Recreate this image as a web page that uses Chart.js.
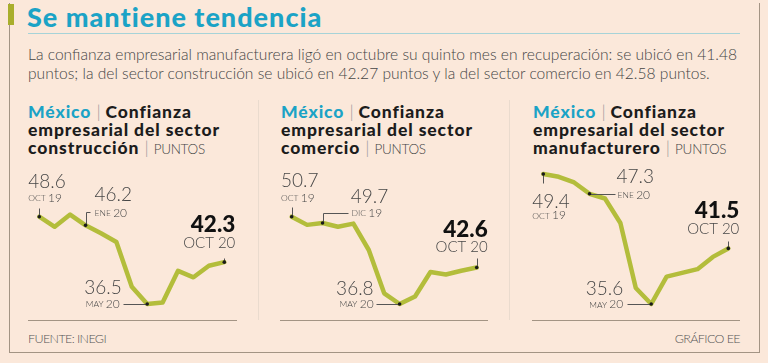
<!DOCTYPE html>
<html>
<head>
<meta charset="utf-8">
<script src="https://cdn.jsdelivr.net/npm/chart.js"></script>
<style>
  html, body { margin: 0; padding: 0; }
  body {
    width: 768px; height: 363px; position: relative; overflow: hidden;
    background: #fbe8da; font-family: 'Lato', sans-serif; color: #3c3c3c;
  }
  .abs { position: absolute; white-space: nowrap; }
  canvas { position: absolute; left: 0; top: 0; }
  .box { left: 9px; top: 3px; width: 749px; height: 349px; border-left: 1px solid #a39484; border-right: 1px solid #a39484; border-bottom: 1px solid #a39484; }
  .bar { left: 8px; top: 4px; width: 6px; height: 21px; background: #a9ae2c; }
  .title { left: 27px; top: 0px; font-size: 27px; font-weight: 900; color: #1ba3c6; letter-spacing: 1px; }
  .rule { left: 28px; top: 33px; width: 712px; height: 1px; background: #a6d3d8; }
  .sub { left: 28px; font-size: 15.6px; font-weight: 300; color: #454545; }
  .head { font-size: 17.5px; font-weight: 900; color: #1c1c1c; line-height: 18px; letter-spacing: 0.9px; }
  .head .mx { color: #1ba3c6; }
  .head .sep { color: #9a9a9a; font-weight: 300; letter-spacing: 0; }
  .head .pt { font-weight: 300; font-size: 13.5px; color: #444; letter-spacing: -0.3px; }
  .vdiv { top: 100px; width: 1px; height: 220px; background: #eadbce; }
  .hr { top: 320px; height: 1px; background: #a39484; }
  .foot { top: 331px; font-size: 12.5px; font-weight: 300; color: #555; letter-spacing: -0.6px; }
</style>
</head>
<body>
<div class="abs box"></div>
<div class="abs bar"></div>
<div class="abs title">Se mantiene tendencia</div>
<div class="abs rule"></div>
<div class="abs sub" style="top:45px">La confianza empresarial manufacturera ligó en octubre su quinto mes en recuperación: se ubicó en 41.48</div>
<div class="abs sub" style="top:64px">puntos; la del sector construcción se ubicó en 42.27 puntos y la del sector comercio en 42.58 puntos.</div>

<div class="abs head" style="left:28px;top:103px"><span class="mx">México</span> <span class="sep">|</span> Confianza<br>empresarial del sector<br>construcción <span class="sep">|</span> <span class="pt">PUNTOS</span></div>
<div class="abs head" style="left:281px;top:103px"><span class="mx">México</span> <span class="sep">|</span> Confianza<br>empresarial del sector<br>comercio <span class="sep">|</span> <span class="pt">PUNTOS</span></div>
<div class="abs head" style="left:533px;top:103px"><span class="mx">México</span> <span class="sep">|</span> Confianza<br>empresarial del sector<br>manufacturero <span class="sep">|</span> <span class="pt">PUNTOS</span></div>

<div class="abs vdiv" style="left:258px"></div>
<div class="abs vdiv" style="left:509px"></div>
<div class="abs hr" style="left:28px;width:209px"></div>
<div class="abs hr" style="left:280px;width:208px"></div>
<div class="abs hr" style="left:532px;width:208px"></div>
<div class="abs foot" style="left:28px">FUENTE: INEGI</div>
<div class="abs foot" style="right:28px">GRÁFICO EE</div>

<canvas id="cConstruccion" width="768" height="363"></canvas>
<canvas id="cComercio" width="768" height="363"></canvas>
<canvas id="cManufactura" width="768" height="363"></canvas>

<script>
// months oct 2019 - oct 2020
const months = ['oct 19', 'nov 19', 'dic 19', 'ene 20', 'feb 20', 'mar 20', 'abr 20',
  'may 20', 'jun 20', 'jul 20', 'ago 20', 'sep 20', 'oct 20'];

// series
const construccion = [48.6, 47.2, 48.9, 47.4, 46.3, 45.1, 38.9, 36.5, 36.7, 41.1, 40.2, 41.8, 42.3];
const comercio = [50.7, 49.4, 49.7, 49.1, 49.6, 45.4, 38.5, 36.8, 38.0, 41.9, 41.5, 42.1, 42.6];
const manufactura = [49.4, 49.1, 48.5, 47.3, 46.8, 44.2, 37.3, 35.6, 38.5, 38.9, 39.3, 40.6, 41.5];

// labelled points: index, value text, month, year
const notasConstruccion = [[0, '48.6', 'OCT', '19'], [3, '46.2', 'ENE', '20'], [7, '36.5', 'MAY', '20'], [12, '42.3', 'OCT', '20']];
const notasComercio = [[0, '50.7', 'OCT', '19'], [2, '49.7', 'DIC', '19'], [7, '36.8', 'MAY', '20'], [12, '42.6', 'OCT', '20']];
const notasManufactura = [[0, '49.4', 'OCT', '19'], [3, '47.3', 'ENE', '20'], [7, '35.6', 'MAY', '20'], [12, '41.5', 'OCT', '20']];

const LINE = '#b3bd3b';
const INK = '#474747';

// placement of each note relative to its point: value offset, month offset, align, leader path
const layoutConstruccion = [
  { v: [-11, -35], m: [-11, -19], align: 'left', lead: [[0, 0], [0, -9]] },
  { v: [9, -30], m: [9, -12.5], align: 'left', lead: [[0, 0], [0, -13], [4, -13]] },
  { v: [-25.5, -16.5], m: [-27.5, 0], align: 'right', lead: [[-24, 0], [0, 0]] },
  { v: [11, -37.5], m: [11, -19], align: 'right', lead: [[0, 0], [0, -4]], last: true }
];
const layoutComercio = [
  { v: [-10.7, -36], m: [-10.7, -19], align: 'left', lead: [[0, 0], [0, -10]] },
  { v: [28.3, -26], m: [29, -10], align: 'left', lead: [[0, 0], [0, -10], [25, -10]] },
  { v: [-26, -15], m: [-26, 0], align: 'right', lead: [[-24, 0], [0, 0]] },
  { v: [11, -37.7], m: [11, -20], align: 'right', lead: [[0, 0], [0, -10]], last: true }
];
const layoutManufactura = [
  { v: [-11, 27.5], m: [-11, 41.5], align: 'left', lead: [[0, 0], [0, 9]] },
  { v: [27, -17], m: [28, 1], align: 'left', lead: [[0, 0], [25, 0]] },
  { v: [-28, -15.5], m: [-28, 0.5], align: 'right', lead: [[-24, 0], [0, 0]] },
  { v: [11, -37.5], m: [11, -19], align: 'right', lead: [[0, 0], [0, -7]], last: true }
];

function drawMonth(ctx, x, y, month, year, align, last) {
  if (last) {
    ctx.font = "300 15px 'Lato', sans-serif";
    ctx.textAlign = align;
    ctx.fillText(month + ' ' + year, x, y);
    return;
  }
  const fm = "300 8.5px 'Lato', sans-serif";
  const fy = "300 12px 'Lato', sans-serif";
  ctx.font = fm;
  const wm = ctx.measureText(month + ' ').width;
  ctx.font = fy;
  const wy = ctx.measureText(year).width;
  let x0 = align === 'right' ? x - wm - wy : x;
  ctx.textAlign = 'left';
  ctx.font = fm;
  ctx.fillText(month, x0, y + 0.5);
  ctx.font = fy;
  ctx.fillText(year, x0 + wm, y);
}

function notesPlugin(notes, layout) {
  return {
    id: 'notes',
    afterDatasetsDraw(chart) {
      const ctx = chart.ctx;
      const pts = chart.getDatasetMeta(0).data;
      ctx.save();
      ctx.textBaseline = 'middle';
      notes.forEach((n, k) => {
        const p = pts[n[0]];
        const l = layout[k];
        // leader line
        ctx.strokeStyle = '#555';
        ctx.lineWidth = 1;
        ctx.beginPath();
        l.lead.forEach((d, j) => {
          const x = Math.round(p.x + d[0]) + 0.5, y = Math.round(p.y + d[1]) + 0.5;
          if (j === 0) ctx.moveTo(x, y); else ctx.lineTo(x, y);
        });
        ctx.stroke();
        // dot
        ctx.fillStyle = '#1a1a1a';
        ctx.beginPath();
        ctx.arc(p.x, p.y, 1.8, 0, Math.PI * 2);
        ctx.fill();
        // value
        ctx.textAlign = l.align;
        if (l.last) {
          ctx.fillStyle = '#111';
          ctx.font = "900 22.5px 'Lato', sans-serif";
        } else {
          ctx.fillStyle = INK;
          ctx.font = "300 19px 'Lato', sans-serif";
        }
        ctx.fillText(n[1], p.x + l.v[0], p.y + l.v[1]);
        ctx.fillStyle = INK;
        drawMonth(ctx, p.x + l.m[0], p.y + l.m[1], n[2], n[3], l.align, l.last);
      });
      ctx.restore();
    }
  };
}

function createPanel(canvasId, values, yMin, yMax, firstX, lastX, notes, layout) {
  const ctx = document.getElementById(canvasId).getContext('2d');
  return new Chart(ctx, {
    type: 'line',
    data: {
      labels: months,
      datasets: [{
        data: values,
        borderColor: LINE,
        borderWidth: 4.5,
        borderJoinStyle: 'round',
        borderCapStyle: 'round',
        tension: 0,
        pointRadius: 0,
        clip: false
      }]
    },
    options: {
      responsive: false,
      animation: false,
      events: [],
      layout: { padding: { left: firstX, right: 768 - lastX, top: 174, bottom: 363 - 304 } },
      scales: {
        x: { display: false, offset: false },
        y: { display: false, min: yMin, max: yMax }
      },
      plugins: { legend: { display: false }, tooltip: { enabled: false } }
    },
    plugins: [notesPlugin(notes, layout)]
  });
}

createPanel('cConstruccion', construccion, 36.5, 54.52, 39.3, 224.3, notasConstruccion, layoutConstruccion);
createPanel('cComercio', comercio, 36.8, 57.5, 291.7, 476.7, notasComercio, layoutComercio);
createPanel('cManufactura', manufactura, 35.6, 49.4, 543.3, 728.3, notasManufactura, layoutManufactura);
</script>
</body>
</html>
